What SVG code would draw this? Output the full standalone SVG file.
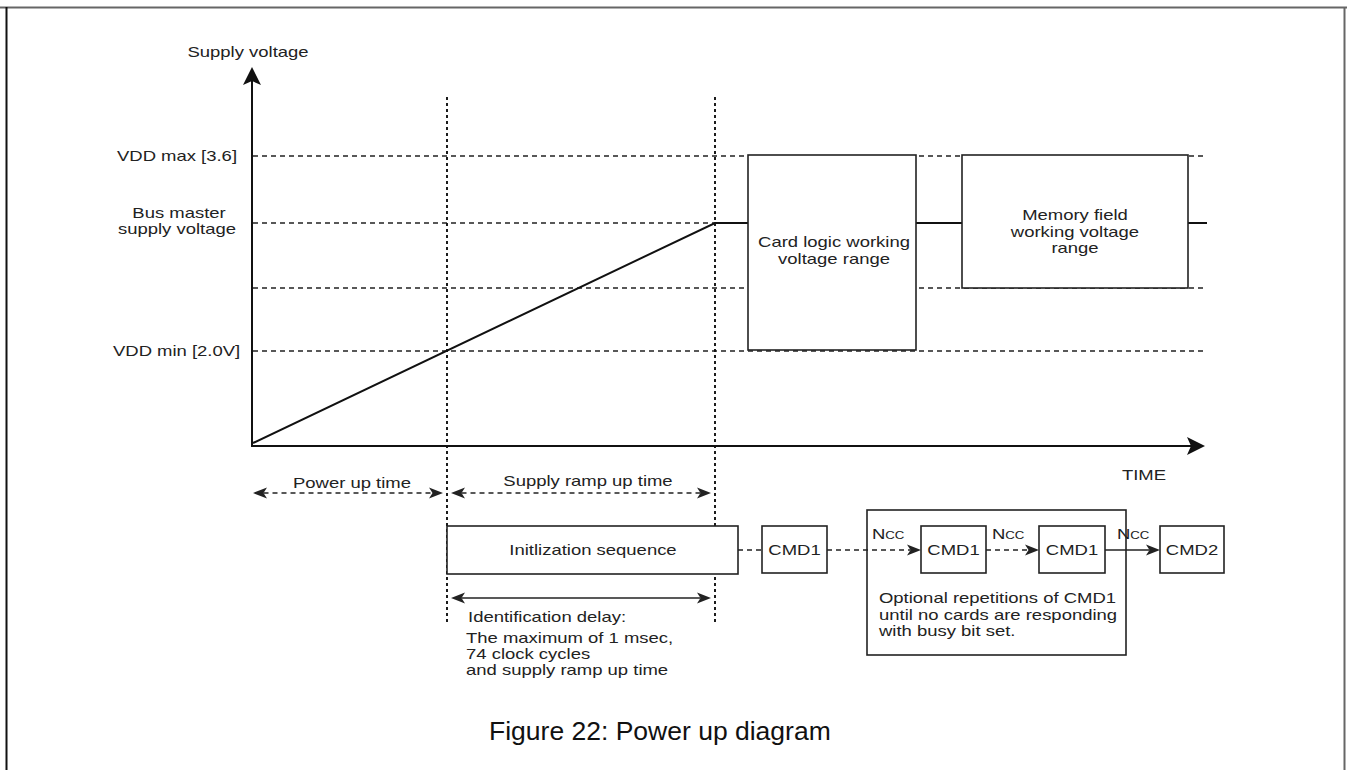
<svg xmlns="http://www.w3.org/2000/svg" width="1347" height="770" viewBox="0 0 1347 770">
<style>
.t{font-family:"Liberation Sans",Arial,sans-serif;font-size:14px;fill:#222}
.cap{font-family:"Liberation Sans",Arial,sans-serif;font-size:26.5px;fill:#111}
.dash{stroke:#222;stroke-width:1.3;stroke-dasharray:5 4;fill:none}
.dot{stroke:#111;stroke-width:1.9;stroke-dasharray:3 3;fill:none}
.solid{stroke:#111;stroke-width:2;fill:none}
.box{stroke:#222;stroke-width:1.6;fill:#fff}
.darr{stroke:#222;stroke-width:1.3;stroke-dasharray:5 4;fill:none}
</style>
<defs>
<marker id="ax" markerUnits="userSpaceOnUse" markerWidth="18" markerHeight="18" refX="4" refY="9" orient="auto" overflow="visible">
<path d="M0,0 L18,9 L0,18 L4,9 z" fill="#111"/>
</marker>
<marker id="ah" markerUnits="userSpaceOnUse" markerWidth="14" markerHeight="11" refX="3.5" refY="5.5" orient="auto-start-reverse" overflow="visible">
<path d="M0,0 L14,5.5 L0,11 L3.5,5.5 z" fill="#222"/>
</marker>
</defs>
<rect width="1347" height="770" fill="#fff"/>
<g id="border">
<line x1="0" y1="7.5" x2="1347" y2="7.5" stroke="#666" stroke-width="2"/>
<line x1="6.5" y1="7" x2="6.5" y2="770" stroke="#111" stroke-width="2"/>
<line x1="1344.5" y1="7" x2="1344.5" y2="770" stroke="#666" stroke-width="2"/>
</g>
<g id="grid">
<line class="dash" x1="253" y1="156" x2="1203" y2="156"/>
<line class="dash" x1="253" y1="223" x2="715" y2="223"/>
<line class="dash" x1="253" y1="288" x2="1203" y2="288"/>
<line class="dash" x1="253" y1="351" x2="1203" y2="351"/>
<line class="dot" x1="447" y1="97" x2="447" y2="625"/>
<line class="dot" x1="715" y1="97" x2="715" y2="625"/>
</g>
<g id="axes">
<line class="solid" x1="252" y1="446" x2="252" y2="81" marker-end="url(#ax)"/>
<line class="solid" x1="251" y1="446" x2="1191" y2="446" marker-end="url(#ax)"/>
<polyline class="solid" points="253,443 715,223 1207,223"/>
</g>
<g id="card-logic">
<rect class="box" x="748" y="155" width="168" height="195"/>
<text class="t" text-anchor="middle" transform="translate(834 247) scale(1.32 1)">Card logic working</text>
<text class="t" text-anchor="middle" transform="translate(834 264) scale(1.32 1)">voltage range</text>
</g>
<g id="memory-field">
<rect class="box" x="962" y="155" width="226" height="133"/>
<text class="t" text-anchor="middle" transform="translate(1075 220) scale(1.32 1)">Memory field</text>
<text class="t" text-anchor="middle" transform="translate(1075 237) scale(1.32 1)">working voltage</text>
<text class="t" text-anchor="middle" transform="translate(1075 253) scale(1.32 1)">range</text>
</g>
<g id="labels">
<text class="t" text-anchor="middle" transform="translate(248 57) scale(1.32 1)">Supply voltage</text>
<text class="t" transform="translate(117 161) scale(1.32 1)">VDD max [3.6]</text>
<text class="t" text-anchor="middle" transform="translate(179 218) scale(1.32 1)">Bus master</text>
<text class="t" text-anchor="middle" transform="translate(177 234) scale(1.32 1)">supply voltage</text>
<text class="t" transform="translate(113 356) scale(1.32 1)">VDD min [2.0V]</text>
<text class="t" text-anchor="middle" transform="translate(1144 480) scale(1.32 1)">TIME</text>
<text class="t" text-anchor="middle" transform="translate(352 488) scale(1.32 1)">Power up time</text>
<text class="t" text-anchor="middle" transform="translate(588 486) scale(1.32 1)">Supply ramp up time</text>
</g>
<g id="timing-arrows">
<line class="darr" x1="263.5" y1="493" x2="432.5" y2="493" marker-start="url(#ah)" marker-end="url(#ah)"/>
<line class="darr" x1="461.5" y1="493" x2="700.5" y2="493" marker-start="url(#ah)" marker-end="url(#ah)"/>
<line stroke="#222" stroke-width="1.6" x1="461.5" y1="598" x2="700.5" y2="598" marker-start="url(#ah)" marker-end="url(#ah)"/>
</g>
<g id="init-seq">
<rect class="box" x="447" y="526" width="291" height="48"/>
<text class="t" text-anchor="middle" transform="translate(593 555) scale(1.32 1)">Initlization sequence</text>
</g>
<g id="ident-delay">
<text class="t" transform="translate(468 622) scale(1.32 1)">Identification delay:</text>
<text class="t" transform="translate(466 643) scale(1.32 1)">The maximum of 1 msec,</text>
<text class="t" transform="translate(466 659) scale(1.32 1)">74 clock cycles</text>
<text class="t" transform="translate(466 675) scale(1.32 1)">and supply ramp up time</text>
</g>
<g id="optional-box">
<rect x="867" y="510" width="259" height="145" fill="none" stroke="#222" stroke-width="1.6"/>
<text class="t" transform="translate(879 603) scale(1.32 1)">Optional repetitions of CMD1</text>
<text class="t" transform="translate(879 620) scale(1.32 1)">until no cards are responding</text>
<text class="t" transform="translate(879 636) scale(1.32 1)">with busy bit set.</text>
</g>
<g id="connectors">
<line class="darr" x1="738" y1="550" x2="762" y2="550"/>
<line class="darr" x1="827" y1="550" x2="910.5" y2="550" marker-end="url(#ah)"/>
<line class="darr" x1="986" y1="550" x2="1028.5" y2="550" marker-end="url(#ah)"/>
<line stroke="#222" stroke-width="1.6" x1="1105" y1="550" x2="1149.5" y2="550" marker-end="url(#ah)"/>
<text class="t" transform="translate(872 539) scale(1.32 1)">N<tspan font-size="10">CC</tspan></text>
<text class="t" transform="translate(992 539) scale(1.32 1)">N<tspan font-size="10">CC</tspan></text>
<text class="t" transform="translate(1117 539) scale(1.32 1)">N<tspan font-size="10">CC</tspan></text>
</g>
<g id="cmd1-a">
<rect class="box" x="762" y="526" width="65" height="47"/>
<text class="t" text-anchor="middle" transform="translate(794.5 555) scale(1.32 1)">CMD1</text>
</g>
<g id="cmd1-b">
<rect class="box" x="921" y="526" width="65" height="47"/>
<text class="t" text-anchor="middle" transform="translate(953.5 555) scale(1.32 1)">CMD1</text>
</g>
<g id="cmd1-c">
<rect class="box" x="1039" y="526" width="66" height="47"/>
<text class="t" text-anchor="middle" transform="translate(1072 555) scale(1.32 1)">CMD1</text>
</g>
<g id="cmd2">
<rect class="box" x="1160" y="526" width="64" height="47"/>
<text class="t" text-anchor="middle" transform="translate(1192 555) scale(1.32 1)">CMD2</text>
</g>
<g id="caption">
<text class="cap" x="489" y="740">Figure 22: Power up diagram</text>
</g>
</svg>
